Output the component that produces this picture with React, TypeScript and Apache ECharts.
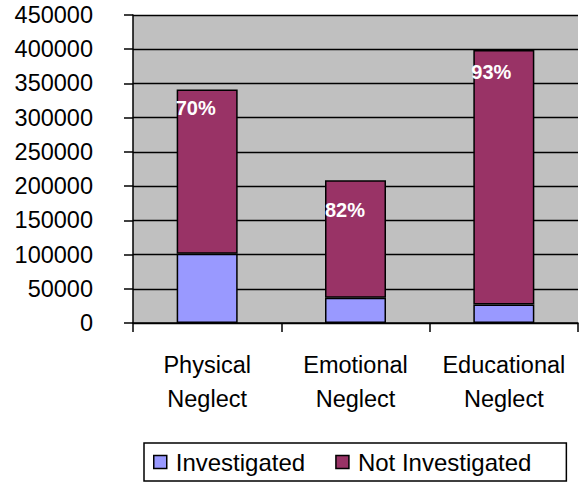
import React, { useEffect, useRef } from "react";
import * as echarts from "echarts";

const categories = ["Physical\nNeglect", "Emotional\nNeglect", "Educational\nNeglect"];
const investigated = [101000, 37000, 27000];
const notInvestigated = [240000, 171500, 372000];
const percentLabels = ["70%", "82%", "93%"];
const yTicks = { min: 0, max: 450000, interval: 50000 };

const FONT = "'Liberation Sans', Arial, sans-serif";
const labelOffsets = [
  [-1, 8],
  [0, 20],
  [-2, 12],
];

export default function App() {
  const ref = useRef<HTMLDivElement>(null);
  useEffect(() => {
    if (!ref.current) return;
    const chart = echarts.init(ref.current, null, { renderer: "svg" });
    chart.setOption({
      animation: false,
      textStyle: { fontFamily: FONT },
      grid: {
        left: 133,
        top: 15,
        right: 2,
        bottom: 162,
        show: true,
        backgroundColor: "#C0C0C0",
        borderWidth: 0,
      },
      xAxis: {
        type: "category",
        data: categories,
        axisLine: { lineStyle: { color: "#000", width: 1.5 } },
        axisTick: { show: true, length: 9, lineStyle: { color: "#000", width: 1.5 } },
        axisLabel: {
          color: "#000",
          fontSize: 23.5,
          fontFamily: FONT,
          lineHeight: 34,
          margin: 25,
          interval: 0,
        },
      },
      yAxis: {
        type: "value",
        min: yTicks.min,
        max: yTicks.max,
        interval: yTicks.interval,
        axisLine: { show: true, lineStyle: { color: "#000", width: 1.5 } },
        axisTick: { show: true, length: 9, lineStyle: { color: "#000", width: 1.5 } },
        axisLabel: {
          color: "#000",
          fontSize: 23.5,
          fontFamily: FONT,
          margin: 40,
          formatter: (v: number) => String(v),
        },
        splitLine: { show: true, lineStyle: { color: "#000", width: 1.3 } },
      },
      legend: {
        left: 144,
        top: 443,
        orient: "horizontal",
        padding: [7, 35, 7, 9],
        borderColor: "#000",
        borderWidth: 1.5,
        backgroundColor: "#fff",
        itemWidth: 13,
        itemHeight: 13,
        itemGap: 30,
        icon: "rect",
        itemStyle: { borderColor: "#000", borderWidth: 1.5 },
        textStyle: { color: "#000", fontSize: 24, fontFamily: FONT, padding: [0, 0, 0, 4] },
        data: ["Investigated", "Not Investigated"],
      },
      series: [
        {
          name: "Investigated",
          type: "bar",
          stack: "total",
          barWidth: 61,
          data: investigated,
          itemStyle: { color: "#9999FF", borderColor: "#000", borderWidth: 1.5 },
        },
        {
          name: "Not Investigated",
          type: "bar",
          stack: "total",
          barWidth: 61,
          data: notInvestigated.map((v, i) => ({
            value: v,
            label: {
              show: true,
              position: "insideTopLeft",
              distance: 0,
              offset: labelOffsets[i],
              formatter: percentLabels[i],
              color: "#fff",
              fontWeight: "bold",
              fontSize: 20,
              fontFamily: FONT,
            },
          })),
          itemStyle: { color: "#993366", borderColor: "#000", borderWidth: 1.5 },
        },
      ],
    });
    return () => chart.dispose();
  }, []);
  return (
    <div
      ref={ref}
      style={{ position: "fixed", left: 0, top: 0, width: 580, height: 485, background: "#fff" }}
    />
  );
}
